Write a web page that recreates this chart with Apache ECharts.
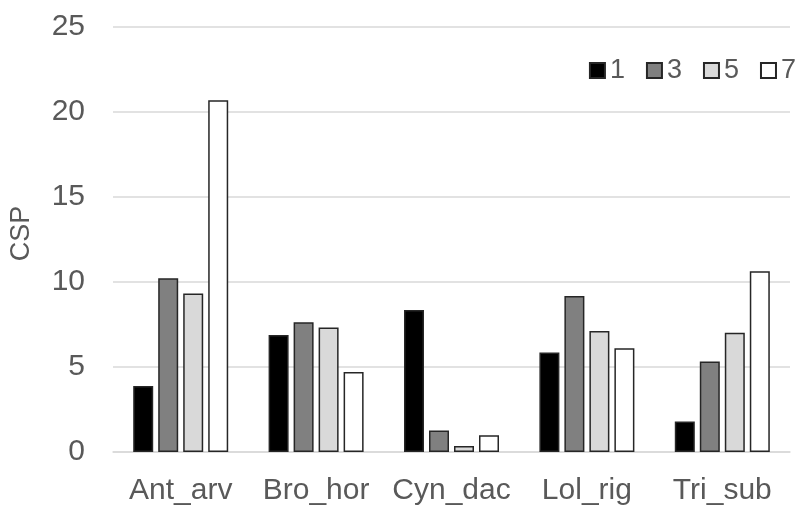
<!DOCTYPE html>
<html>
<head>
<meta charset="utf-8">
<script src="https://cdn.jsdelivr.net/npm/echarts@6/dist/echarts.min.js"></script>
<style>html,body{margin:0;padding:0;background:#fff}#c{width:805px;height:507px}</style>
</head>
<body>
<div id="c"></div>
<script>
const categories = ['Ant_arv', 'Bro_hor', 'Cyn_dac', 'Lol_rig', 'Tri_sub'];
const seriesNames = ['1', '3', '5', '7'];
const s1 = [3.88, 6.88, 8.35, 5.86, 1.80];
const s3 = [10.22, 7.63, 1.26, 9.18, 5.33];
const s5 = [9.32, 7.33, 0.35, 7.12, 7.02];
const s7 = [20.69, 4.71, 0.98, 6.10, 10.63];
const yTicks = [0, 5, 10, 15, 20, 25];

const fills = ['#000000', '#808080', '#d9d9d9', '#ffffff'];
const values = [s1, s3, s5, s7];
const font = 'Liberation Sans, Arial, sans-serif';

const chart = echarts.init(document.getElementById('c'), null, {renderer: 'canvas'});
chart.setOption({
  animation: false,
  backgroundColor: '#ffffff',
  textStyle: {fontFamily: font},
  grid: {left: 110, right: 15, top: 27, bottom: 55, containLabel: false},
  legend: {
    data: seriesNames,
    right: 4, top: 52,
    itemWidth: 15, itemHeight: 15, itemGap: 21,
    icon: 'rect',
    textStyle: {color: '#595959', fontSize: 27, fontFamily: font}
  },
  xAxis: {
    type: 'category',
    data: categories,
    axisTick: {show: false},
    axisLine: {lineStyle: {color: '#d9d9d9', width: 1.5}},
    axisLabel: {color: '#595959', fontSize: 30, fontFamily: font, margin: 24, interval: 0, hideOverlap: false}
  },
  yAxis: {
    type: 'value',
    min: yTicks[0], max: yTicks[yTicks.length - 1], interval: 5,
    name: 'CSP', nameLocation: 'middle', nameGap: 78, nameRotate: 90,
    nameTextStyle: {color: '#595959', fontSize: 27, fontFamily: font, padding: [0, 0, 0, 12]},
    axisLine: {show: false},
    axisTick: {show: false},
    splitLine: {lineStyle: {color: '#d9d9d9', width: 1.5}},
    axisLabel: {color: '#595959', fontSize: 30, fontFamily: font, margin: 28}
  },
  series: seriesNames.map((n, i) => ({
    name: n,
    type: 'bar',
    data: values[i],
    barWidth: 20,
    barGap: '25%',
    itemStyle: {color: fills[i], borderColor: '#262626', borderWidth: 1.5}
  }))
});
</script>
</body>
</html>
